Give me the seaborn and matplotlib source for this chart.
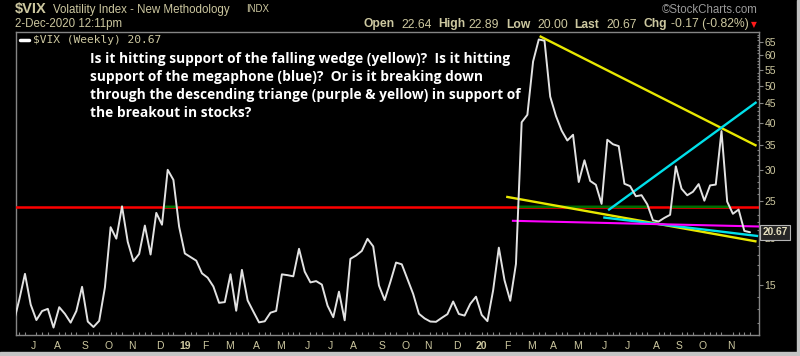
import numpy as np
import pandas as pd
import seaborn as sns
import matplotlib.pyplot as plt
import matplotlib.dates as mdates
from matplotlib.lines import Line2D
from matplotlib.patches import Rectangle
from matplotlib.ticker import FixedLocator, NullFormatter
from matplotlib.transforms import blended_transform_factory

# weekly closes of $VIX, week ending 15-Jun-2018 .. week of 2-Dec-2020
weeks = pd.date_range("2018-06-15", periods=130, freq="W-FRI")
vix = [
    11.98, 13.77, 16.09, 13.37, 12.18, 12.86, 13.03, 11.64, 13.16, 12.64,
    11.99, 12.86, 14.88, 12.07, 11.68, 12.12, 14.82, 21.31, 19.89, 24.16,
    19.51, 17.36, 18.14, 21.52, 18.07, 23.23, 21.63, 30.11, 28.34,
    21.38, 18.19, 17.80, 17.42, 16.14, 15.72, 14.91, 13.51, 13.57, 16.05,
    12.88, 16.48, 13.71, 12.82, 12.01, 12.09, 12.73, 12.87, 16.04, 15.96,
    15.85, 18.71, 16.30, 15.28, 15.40, 15.08, 13.28, 12.39, 14.45, 12.16,
    17.61, 17.97, 18.47, 19.87, 18.98, 15.00, 13.74, 15.32, 17.22, 17.04,
    15.58, 14.25, 12.65, 12.30, 12.07, 12.05, 12.34, 12.62, 13.62, 12.63,
    12.51, 13.43,
    14.02, 12.56, 12.10, 14.56, 18.84, 15.47, 13.68, 17.08, 40.11, 41.94,
    57.83, 66.04, 65.54, 46.80, 41.67, 38.15, 35.93, 37.19, 27.98, 31.89,
    28.16, 27.51, 24.52, 36.09, 35.12, 34.73, 27.68, 27.29, 25.68, 25.84,
    24.46, 22.21, 22.05, 22.54, 22.96, 30.75, 26.87, 25.83, 26.38, 27.63,
    25.00, 27.41, 27.55, 38.02, 24.86, 23.10, 23.70, 20.84, 20.67,
]
last = 20.67

# drawn lines (end points)
support = 24.1
wedge_top_dates = ["2020-03-21", "2020-12-12"]
wedge_top_vals = [67.4, 34.8]
wedge_low_dates = ["2020-02-09", "2020-12-12"]
wedge_low_vals = [25.6, 19.55]
mega_up_dates = ["2020-06-13", "2020-12-12"]
mega_up_vals = [23.6, 45.3]
mega_low_dates = ["2020-06-07", "2020-12-14"]
mega_low_vals = [22.6, 20.2]
tri_dates = ["2020-02-16", "2020-12-15"]
tri_vals = [22.15, 21.4]

y_ticks = [15, 20, 25, 30, 35, 40, 45, 50, 55, 60, 65]
month_labels = ["J", "A", "S", "O", "N", "D", "19", "F", "M", "A", "M", "J",
                "J", "A", "S", "O", "N", "D", "20", "F", "M", "A", "M", "J",
                "J", "A", "S", "O", "N"]
quote_names = ["Open", "High", "Low", "Last", "Chg"]
quote_vals = ["22.64", "22.89", "20.00", "20.67", "-0.17 (-0.82%)"]

note_lines = [
    "Is it hitting support of the falling wedge (yellow)?  Is it hitting",
    "support of the megaphone (blue)?  Or is it breaking down",
    "through the descending triange (purple & yellow) in support of",
    "the breakout in stocks?",
]

sns.set_style("dark")
plt.rcParams["font.family"] = ["Liberation Sans", "DejaVu Sans"]

KHAKI = "#cdc8a0"
GREY = "#858585"
W, H = 800, 356

fig = plt.figure(figsize=(W / 100, H / 100), dpi=100, facecolor="black")
ax = fig.add_axes([16 / W, 1 - 335 / H, 743 / W, 303.3 / H])
ax.set_facecolor("black")
ax.grid(False)

df = pd.DataFrame({"week": weeks, "close": vix})
sns.lineplot(data=df, x="week", y="close", ax=ax, color="#e2e2e2", lw=1.4, zorder=6)
ax.set_xlabel("")
ax.set_ylabel("")
ax.set_yscale("log")
ax.set_ylim(11.13, 69.2)
ax.set_xlim(mdates.date2num(pd.Timestamp("2018-06-18")), mdates.date2num(pd.Timestamp("2020-12-15")))

# support line: red, green where the index trades above it
ax.axhline(support, color="#ff0000", lw=1.8, zorder=3)
xn = mdates.date2num(weeks)
xf = np.linspace(xn[0], xn[-1], 6000)
yf = np.interp(xf, xn, vix)
ax.plot(xf, np.where(yf > support, support, np.nan), color="#006e00", lw=1.8, zorder=4)

for d, v, c, lw in [
    (wedge_top_dates, wedge_top_vals, "#e8e800", 1.7),
    (wedge_low_dates, wedge_low_vals, "#e8e800", 1.7),
    (mega_up_dates, mega_up_vals, "#00e0ea", 1.7),
    (mega_low_dates, mega_low_vals, "#00e0ea", 1.7),
    (tri_dates, tri_vals, "#ff00ff", 1.5),
]:
    ax.plot(mdates.date2num(pd.to_datetime(d)), v, color=c, lw=lw, zorder=5,
            clip_on=False, solid_capstyle="butt")

# axes styling
for s in ax.spines.values():
    s.set_color(GREY)
    s.set_linewidth(1)

ax.yaxis.tick_right()
ax.set_yticks(y_ticks, [str(v) for v in y_ticks])
ax.yaxis.set_minor_locator(FixedLocator([v for v in range(12, 69) if v not in y_ticks]))
ax.yaxis.set_minor_formatter(NullFormatter())
ax.tick_params(axis="y", which="major", right=True, length=3, width=0.8, color=GREY,
               pad=1, labelsize=7.5, labelcolor=KHAKI)
ax.tick_params(axis="y", which="minor", right=True, length=1.5, width=0.8,
               direction="in", color=GREY)

month_starts = pd.date_range("2018-07-01", periods=len(month_labels), freq="MS")
tick_pos = [mdates.date2num(weeks[weeks >= m][0]) for m in month_starts]
ax.set_xticks(tick_pos, month_labels)
ax.xaxis.set_minor_locator(FixedLocator(xn))
ax.tick_params(axis="x", which="major", bottom=True, length=0, pad=4,
               labelsize=7.5, labelcolor=KHAKI)
ax.tick_params(axis="x", which="minor", bottom=True, length=2, width=0.8,
               direction="in", color=GREY)
for lab in ax.get_xticklabels():
    lab.set_ha("left")
    if lab.get_text() in ("19", "20"):
        lab.set_fontweight("bold")

# last-price tag on the right scale (sits over the "20" tick, as on the chart)
tr = blended_transform_factory(ax.transAxes, ax.transData)
ax.text(1.0045, last, f"{last:.2f}", transform=tr, ha="left", va="center",
        fontsize=7.3, fontweight="bold", color="#e6e0bf", clip_on=False, zorder=12,
        bbox=dict(boxstyle="square,pad=0.25", fc="#262626", ec="#b5b5b5", lw=0.8))

# header
def px(x, y):
    return x / W, 1 - y / H

fig.text(*px(15, 9), "\\$VIX", fontsize=10.5, fontweight="bold", color=KHAKI, va="center")
fig.text(*px(53, 9.5), "Volatility Index - New Methodology", fontsize=8.3, color=KHAKI, va="center")
fig.text(*px(246, 9.5), "INDX", fontsize=7, color=KHAKI, va="center")
fig.text(*px(15, 24.5), "2-Dec-2020 12:11pm", fontsize=8.3, color=KHAKI, va="center")
fig.text(*px(758, 10), "\u00a9StockCharts.com", fontsize=8.3, color="#9a9a9a",
         va="center", ha="right")

name_x = [363, 438, 506, 574, 643]
val_x = [401.5, 468, 537, 606, 671]
for nm, v, x0, x1 in zip(quote_names, quote_vals, name_x, val_x):
    fig.text(*px(x0, 24.5), nm, fontsize=8.7, fontweight="bold", color=KHAKI, va="center")
    fig.text(*px(x1, 24.5), v, fontsize=8.7, color=KHAKI, va="center")
fig.text(*px(751, 25), "\u25bc", fontsize=5.5, color="#ff1a1a", va="center",
         family="DejaVu Sans")

# legend
fig.add_artist(Line2D([20 / W, 29 / W], [1 - 40 / H] * 2, color="white", lw=2.5))
fig.text(*px(33, 40), "\\$VIX (Weekly) 20.67", fontsize=8.1, color=KHAKI,
         va="center", family="DejaVu Sans Mono")

# commentary, sized so the first line spans x=90..510 like the original
note_font = ["Open Sans", "DejaVu Sans"]
probe = fig.text(0, 0, note_lines[0], fontsize=10, fontweight="bold", family=note_font)
wpx = probe.get_window_extent(fig.canvas.get_renderer()).width
probe.remove()
note_size = 10 * 420 / wpx
for k, line in enumerate(note_lines):
    fig.text(*px(90, 59 + 18.1 * k), line, fontsize=note_size, fontweight="bold",
             color="white", va="center", family=note_font)

# screenshot edge
fig.add_artist(Rectangle((0, 0), 1, 4.5 / H, transform=fig.transFigure,
                         color="#c4c4c4", zorder=0))
fig.add_artist(Rectangle((796.5 / W, 0), 3.5 / W, 1, transform=fig.transFigure,
                         color="#c4c4c4", zorder=0))

fig.savefig("out.png", dpi=100, facecolor="black")
